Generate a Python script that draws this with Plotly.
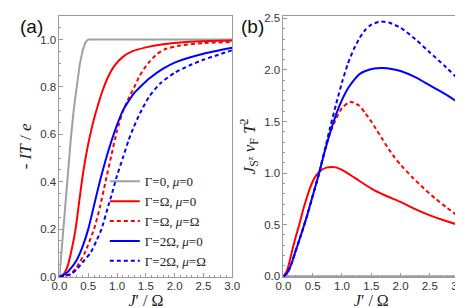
import plotly.graph_objects as go

# ---------------- Panel (a): -IT/e vs J'/Omega ----------------
a_gray_x = [0, 0.05, 0.1, 0.15, 0.2, 0.25, 0.3, 0.35, 0.4, 0.45, 0.5, 3.0]
a_gray_y = [0, 0.156, 0.309, 0.454, 0.588, 0.707, 0.809, 0.891, 0.951, 0.988, 1.0, 1.0]

a_red_x = [0, 0.05, 0.1, 0.15, 0.2, 0.28, 0.35, 0.4, 0.45, 0.5, 0.55, 0.6, 0.67, 0.75, 0.85, 0.95,
           1.1, 1.26, 1.5, 1.8, 2.2, 2.6, 3.0]
a_red_y = [0, 0.005, 0.02, 0.05, 0.10, 0.2, 0.33, 0.42, 0.495, 0.56, 0.615, 0.665, 0.725, 0.785, 0.845, 0.888,
           0.927, 0.95, 0.967, 0.98, 0.99, 0.994, 0.996]

a_redd_x = [0, 0.1, 0.2, 0.3, 0.44, 0.6, 0.7, 0.8, 0.9, 1.0, 1.1, 1.2, 1.3, 1.4, 1.54, 1.7, 1.84,
            2.1, 2.5, 3.0]
a_redd_y = [0, 0.002, 0.012, 0.04, 0.1, 0.2, 0.29, 0.40, 0.51, 0.615, 0.695, 0.752, 0.80, 0.85, 0.90,
            0.94, 0.96, 0.975, 0.985, 0.99]

a_blue_x = [0, 0.1, 0.2, 0.3, 0.4, 0.5, 0.6, 0.7, 0.8, 0.9, 1.0, 1.1, 1.2, 1.3, 1.4, 1.56, 1.8,
            2.01, 2.5, 3.0]
a_blue_y = [0, 0.01, 0.035, 0.07, 0.125, 0.2, 0.3, 0.40, 0.49, 0.57, 0.64, 0.70, 0.74, 0.775, 0.80,
            0.836, 0.877, 0.904, 0.94, 0.965]

a_blued_x = [0, 0.2, 0.3, 0.4, 0.54, 0.65, 0.73, 0.85, 0.9, 1.0, 1.1, 1.2, 1.28, 1.4, 1.56, 1.75,
             2.0, 2.25, 2.5, 2.75, 3.0]
a_blued_y = [0, 0.01, 0.03, 0.06, 0.1, 0.155, 0.2, 0.3, 0.34, 0.426, 0.50, 0.575, 0.625, 0.69, 0.76,
             0.815, 0.86, 0.89, 0.915, 0.935, 0.955]

# ---------------- Panel (b): J_{S^z} v_F T^2 vs J'/Omega ----------------
b_gray_x = [0, 3.0]
b_gray_y = [0, 0]

b_red_x = [0, 0.05, 0.1, 0.15, 0.2, 0.27, 0.35, 0.45, 0.55, 0.65, 0.75, 0.83, 0.9, 1.0, 1.2, 1.5,
           1.75, 2.0, 2.25, 2.5, 2.75, 3.0]
b_red_y = [0, 0.04, 0.13, 0.25, 0.36, 0.5, 0.67, 0.85, 0.97, 1.03, 1.055, 1.06, 1.055, 1.03, 0.96,
           0.85, 0.78, 0.72, 0.65, 0.59, 0.54, 0.495]

b_redd_x = [0, 0.05, 0.1, 0.15, 0.2, 0.3, 0.4, 0.5, 0.6, 0.7, 0.8, 0.9, 1.0, 1.1, 1.15, 1.2, 1.3,
            1.4, 1.5, 1.6, 1.7, 1.8, 1.9, 2.0, 2.2, 2.4, 2.6, 2.8, 3.0]
b_redd_y = [0, 0.02, 0.07, 0.14, 0.23, 0.40, 0.58, 0.78, 0.98, 1.2, 1.39, 1.53, 1.63, 1.68, 1.69,
            1.685, 1.65, 1.58, 1.50, 1.41, 1.32, 1.23, 1.15, 1.08, 0.96, 0.85, 0.75, 0.66, 0.575]

b_blue_x = [0, 0.05, 0.1, 0.15, 0.2, 0.3, 0.4, 0.5, 0.6, 0.7, 0.8, 0.9, 1.0, 1.1, 1.2, 1.3, 1.4,
            1.55, 1.7, 1.85, 2.0, 2.25, 2.5, 2.75, 3.0]
b_blue_y = [0, 0.02, 0.07, 0.14, 0.23, 0.40, 0.58, 0.78, 0.98, 1.2, 1.40, 1.57, 1.71, 1.82, 1.9,
            1.96, 1.99, 2.015, 2.02, 2.01, 1.99, 1.93, 1.85, 1.77, 1.68]

b_blued_x = [0, 0.05, 0.1, 0.15, 0.2, 0.3, 0.4, 0.5, 0.6, 0.7, 0.8, 0.9, 1.0, 1.1, 1.2, 1.3, 1.4,
             1.5, 1.66, 1.8, 2.0, 2.25, 2.5, 2.75, 3.0]
b_blued_y = [0, 0.02, 0.07, 0.14, 0.23, 0.40, 0.58, 0.78, 0.98, 1.21, 1.45, 1.67, 1.88, 2.06, 2.2,
             2.31, 2.39, 2.44, 2.47, 2.46, 2.41, 2.30, 2.17, 2.04, 1.905]

legend_names = ["Γ=0, <i>μ</i>=0", "Γ=Ω, <i>μ</i>=0", "Γ=Ω, <i>μ</i>=Ω",
                "Γ=2Ω, <i>μ</i>=0", "Γ=2Ω, <i>μ</i>=Ω"]

x_ticks = [0, 0.5, 1.0, 1.5, 2.0, 2.5, 3.0]
a_y_ticks = [0, 0.2, 0.4, 0.6, 0.8, 1.0]
b_y_ticks = [0, 0.5, 1.0, 1.5, 2.0, 2.5]

GRAY = "#a0a0a0"
RED = "#ff0000"
BLUE = "#0000ff"
DASH = "4px,3px"

fig = go.Figure()

styles = [(GRAY, "solid", "linear"), (RED, "solid", "spline"), (RED, DASH, "spline"),
          (BLUE, "solid", "spline"), (BLUE, DASH, "spline")]
a_data = [(a_gray_x, a_gray_y), (a_red_x, a_red_y), (a_redd_x, a_redd_y),
          (a_blue_x, a_blue_y), (a_blued_x, a_blued_y)]
b_data = [(b_gray_x, b_gray_y), (b_red_x, b_red_y), (b_redd_x, b_redd_y),
          (b_blue_x, b_blue_y), (b_blued_x, b_blued_y)]

for (xs, ys), (c, d, sh), name in zip(a_data, styles, legend_names):
    fig.add_trace(go.Scatter(x=xs, y=ys, mode="lines", name=name,
                             line=dict(color=c, width=2, dash=d, shape=sh, smoothing=0.6),
                             xaxis="x", yaxis="y"))
for (xs, ys), (c, d, sh) in zip(b_data, styles):
    fig.add_trace(go.Scatter(x=xs, y=ys, mode="lines", showlegend=False,
                             line=dict(color=c, width=2, dash=d, shape=sh, smoothing=0.6),
                             xaxis="x2", yaxis="y2"))

tickfont = dict(family="Liberation Sans, Arial, sans-serif", size=11.5, color="#333333")
titlefont = dict(family="Liberation Serif, Times New Roman, serif", size=16, color="#222222")
frame = dict(showline=True, linecolor="#9a9a9a", linewidth=1, mirror=True,
             ticks="inside", ticklen=4, tickcolor="#9a9a9a", showgrid=False, zeroline=False,
             tickfont=tickfont)

y0 = (308 - 274) / 308
y1 = (308 - 5) / 308

fig.update_layout(
    width=463, height=308,
    margin=dict(l=0, r=0, t=0, b=0),
    paper_bgcolor="white", plot_bgcolor="white",
    xaxis=dict(domain=[45 / 463, 224 / 463], range=[0, 3], tickvals=x_ticks, tickformat=".1f",
               ticklabelstandoff=-2,
               minor=dict(dtick=0.1, ticks="inside", ticklen=2, tickcolor="#9a9a9a"),
               title=dict(text="<i>J</i>′ / Ω", font=titlefont, standoff=0), **frame),
    yaxis=dict(domain=[y0, y1], range=[-0.002, 1.1], tickvals=a_y_ticks, tickformat=".1f",
               minor=dict(dtick=0.05, ticks="inside", ticklen=2, tickcolor="#9a9a9a"),
               title=dict(text="- <i>IT</i> / <i>e</i>", font=dict(titlefont, size=17), standoff=4),
               **frame),
    xaxis2=dict(domain=[277 / 463, 459 / 463], range=[0, 3], tickvals=x_ticks, tickformat=".1f",
                anchor="y2", ticklabelstandoff=-2,
                minor=dict(dtick=0.1, ticks="inside", ticklen=2, tickcolor="#9a9a9a"),
                title=dict(text="<i>J</i>′ / Ω", font=titlefont, standoff=0), **frame),
    yaxis2=dict(domain=[y0, y1], range=[-0.008, 2.525], tickvals=b_y_ticks, tickformat=".1f",
                anchor="x2",
                minor=dict(dtick=0.1, ticks="inside", ticklen=2, tickcolor="#9a9a9a"),
                title=dict(text="<i>J</i><sub>S<sup>z</sup></sub> <i>v</i><sub>F</sub> <i>T</i><sup>2</sup>",
                           font=dict(titlefont, size=17), standoff=4), **frame),
    legend=dict(x=92 / 463, y=(308 - 160) / 308, xanchor="left", yanchor="top",
                bgcolor="rgba(0,0,0,0)", borderwidth=0,
                font=dict(family="Liberation Serif, Times New Roman, serif", size=13, color="#222222"),
                tracegroupgap=0),
    showlegend=True,
)

fig.add_annotation(text="(a)", x=2 / 463, y=1 - 3 / 308, xref="paper", yref="paper",
                   xanchor="left", yanchor="top", showarrow=False,
                   font=dict(family="Liberation Sans, Arial, sans-serif", size=19, color="#111111"))
fig.add_annotation(text="(b)", x=231 / 463, y=1 - 3 / 308, xref="paper", yref="paper",
                   xanchor="left", yanchor="top", showarrow=False,
                   font=dict(family="Liberation Sans, Arial, sans-serif", size=19, color="#111111"))

fig.write_html("out.html")
